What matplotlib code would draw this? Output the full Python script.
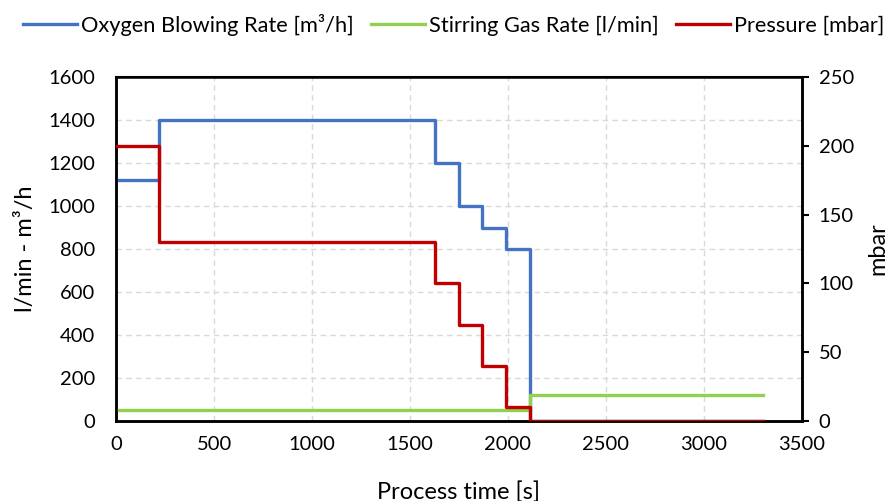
import matplotlib
matplotlib.use("Agg")
import matplotlib.pyplot as plt

plt.rcParams['font.family'] = ['Lato', 'DejaVu Sans']

# Step profiles: value holds from each time until the next one
oxygen_t = [0, 220, 1630, 1750, 1870, 1990, 2110, 3300]
oxygen_v = [1120, 1400, 1200, 1000, 900, 800, 0, 0]

stirring_t = [0, 2110, 3300]
stirring_v = [50, 120, 120]

pressure_t = [0, 220, 1630, 1750, 1870, 1990, 2110, 3300]
pressure_v = [200, 130, 100, 70, 40, 10, 0, 0]

x_ticks = [0, 500, 1000, 1500, 2000, 2500, 3000, 3500]
left_ticks = [0, 200, 400, 600, 800, 1000, 1200, 1400, 1600]
right_ticks = [0, 50, 100, 150, 200, 250]

BLUE = '#4472C4'
GREEN = '#92D050'
RED = '#C00000'

fig = plt.figure(figsize=(8.96, 5.01), dpi=100)
ax = fig.add_axes([0.1295, 0.1597, 0.7655, 0.6863])
ax2 = ax.twinx()

lw = 2.4
h1, = ax.step(oxygen_t, oxygen_v, where='post', color=BLUE, lw=lw, zorder=3,
              label='Oxygen Blowing Rate [m³/h]')
h2, = ax.step(stirring_t, stirring_v, where='post', color=GREEN, lw=lw, zorder=4,
              label='Stirring Gas Rate [l/min]')
h3, = ax2.step(pressure_t, pressure_v, where='post', color=RED, lw=lw, zorder=5,
               label='Pressure [mbar]')

ax.set_xlim(0, 3500)
ax.set_ylim(0, 1600)
ax2.set_ylim(0, 250)
ax.set_xticks(x_ticks)
ax.set_yticks(left_ticks)
ax2.set_yticks(right_ticks)

ax.grid(True, color='#d9d9d9', linestyle=(0, (4, 3)), lw=1.0)
ax.set_axisbelow(True)

fs = 14.5
ax.tick_params(axis='y', labelsize=fs, length=0, pad=15)
ax.tick_params(axis='x', labelsize=fs, length=0, pad=11)
ax2.tick_params(axis='y', labelsize=fs, length=5, width=1.5, direction='out', pad=7)

for a in (ax, ax2):
    for s in a.spines.values():
        s.set_color('black')
        s.set_linewidth(1.8)
ax.spines['top'].set_linewidth(1.5)

ax.set_xlabel('Process time [s]', fontsize=17, labelpad=20)
ax.set_ylabel('l/min - m³/h', fontsize=17, labelpad=9)
ax2.set_ylabel('mbar', fontsize=17, labelpad=10)

ax2.set_zorder(ax.get_zorder() + 1)
ax2.patch.set_visible(False)

fig.legend(handles=[h1, h2, h3], loc='center', bbox_to_anchor=(0.506, 0.95),
           ncol=3, frameon=False, fontsize=15.7, handlelength=2.5,
           handletextpad=0.15, columnspacing=0.8)

fig.savefig('out.png', dpi=100)
